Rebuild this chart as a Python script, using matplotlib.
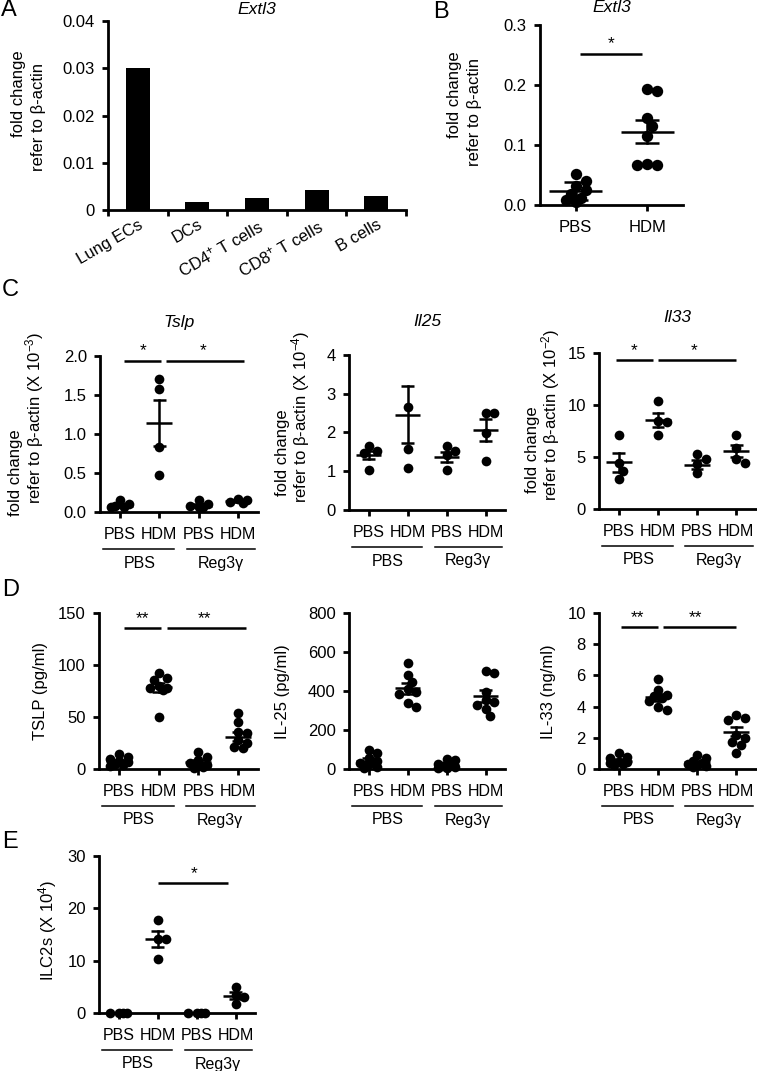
import matplotlib.pyplot as plt
import matplotlib.transforms as mtransforms
import numpy as np

plt.rcParams['font.family'] = ['Liberation Sans', 'DejaVu Sans']
plt.rcParams['mathtext.fontset'] = 'custom'
plt.rcParams['mathtext.rm'] = 'Liberation Sans'
plt.rcParams['mathtext.it'] = 'Liberation Sans:italic'
plt.rcParams['mathtext.default'] = 'regular'

W, H = 757, 1071

# ---- data ----
# A: Extl3 in sorted cells
cell_types = ["Lung ECs", "DCs", "CD4$^{+}$ T cells", "CD8$^{+}$ T cells", "B cells"]
extl3_cells = [0.030, 0.0017, 0.0026, 0.0042, 0.0030]

# B: Extl3 in lung, PBS vs HDM
groups_b = ["PBS", "HDM"]
extl3_pbs = [0.051, 0.040, 0.032, 0.025, 0.018, 0.012, 0.008, 0.005]
extl3_hdm = [0.193, 0.190, 0.145, 0.131, 0.115, 0.069, 0.066, 0.066]
extl3_mean = [0.024, 0.122]
extl3_sem = [0.015, 0.019]

# C-E: four groups (PBS/HDM challenge, PBS/Reg3g treatment)
groups = ["PBS", "HDM", "PBS", "HDM"]
treatments = ["PBS", "Reg3\u03b3"]

tslp_mrna = [[0.16, 0.10, 0.08, 0.07, 0.06], [1.70, 1.58, 0.83, 0.47],
             [0.15, 0.10, 0.08, 0.07, 0.06], [0.17, 0.15, 0.13, 0.12]]
tslp_mrna_mean = [0.08, 1.14, 0.08, 0.14]
tslp_mrna_sem = [0.02, 0.30, 0.02, 0.01]

il25_mrna = [[1.64, 1.51, 1.48, 1.03], [2.65, 1.58, 1.09],
             [1.64, 1.51, 1.42, 1.03], [2.50, 2.50, 1.98, 1.27]]
il25_mrna_mean = [1.41, 2.46, 1.37, 2.07]
il25_mrna_sem = [0.10, 0.74, 0.12, 0.28]

il33_mrna = [[7.1, 4.4, 3.7, 2.9], [10.35, 8.5, 8.4, 7.15],
             [5.3, 4.8, 4.3, 3.5], [7.15, 5.9, 4.8, 4.4]]
il33_mrna_mean = [4.5, 8.55, 4.25, 5.6]
il33_mrna_sem = [0.9, 0.65, 0.45, 0.6]

tslp_prot = [[14, 12, 10, 8, 7, 5, 4, 3], [92, 87.5, 86, 79.6, 78, 78, 76, 49.8],
             [16, 12, 8.7, 5.5, 4, 3, 2, 1], [53.6, 45.6, 36, 34.4, 28, 25, 21.5, 20]]
tslp_prot_mean = [7.5, 78.4, 6.5, 31.0]
tslp_prot_sem = [1.3, 4.5, 1.8, 4.3]

il25_prot = [[100, 80, 55, 40, 30, 25, 12, 5], [544, 480, 445, 411, 394, 385, 341, 316],
             [50, 45, 25, 20, 15, 10, 5, 3], [503, 493, 396, 353, 343, 327, 307, 270]]
il25_prot_mean = [43, 413, 22, 374]
il25_prot_sem = [12, 27, 6, 29]

il33_prot = [[1.0, 0.79, 0.68, 0.47, 0.45, 0.36, 0.30, 0.26],
             [5.76, 5.07, 4.75, 4.65, 4.54, 4.33, 4.0, 3.8],
             [0.9, 0.7, 0.5, 0.4, 0.3, 0.25, 0.2, 0.15],
             [3.47, 3.25, 3.15, 2.19, 1.97, 1.76, 1.54, 1.0]]
il33_prot_mean = [0.54, 4.6, 0.43, 2.4]
il33_prot_sem = [0.09, 0.22, 0.09, 0.31]

ilc2 = [[0, 0, 0, 0], [17.7, 14.1, 14.1, 10.4], [0, 0, 0, 0], [5.0, 3.4, 3.1, 1.8]]
ilc2_mean = [0, 14.1, 0, 3.3]
ilc2_sem = [0, 1.5, 0, 0.65]

SPINE_LW = 2.0
FS_TICK = 12
FS_GROUP = 11.5
FS_LAB = 12


def fx(x):
    return x / W


def fy(y):
    return 1 - y / H


def add_ax(fig, left, top, right, bottom):
    ax = fig.add_axes([fx(left), fy(bottom), (right - left) / W, (bottom - top) / H])
    for s in ['top', 'right']:
        ax.spines[s].set_visible(False)
    for s in ['left', 'bottom']:
        ax.spines[s].set_linewidth(SPINE_LW)
    ax.tick_params(width=SPINE_LW, length=4.5, labelsize=FS_TICK, direction='out')
    ax.tick_params(axis='x', pad=6)
    ax.tick_params(axis='y', pad=5)
    return ax


def swarm_x(ax, x0, vals, diam_px, step_px, n_side=2):
    # simple deterministic swarm: nearest free slot, else the least crowded one
    trans = ax.transData
    px_per_unit = trans.transform((1, 0))[0] - trans.transform((0, 0))[0]
    cands = [0.0]
    for i in range(1, n_side + 1):
        cands += [i * step_px, -i * step_px]
    placed = []
    xs = []
    for v in vals:
        yp = trans.transform((x0, v))[1]
        best, best_d = None, -1
        for c in cands:
            d = min([np.hypot(c - px, yp - py) for px, py in placed] or [1e9])
            if d >= 0.75 * diam_px:
                best = c
                break
            if d > best_d:
                best, best_d = c, d
        placed.append((best, yp))
        xs.append(x0 + best / px_per_unit)
    return xs


def dot_plot(ax, data, means, sems, ms=7.0, mean_w=0.33, cap_w=0.16):
    diam_px = ms / 72 * 100
    for i, vals in enumerate(data):
        xs = swarm_x(ax, i, vals, diam_px, diam_px * 0.45)
        ax.scatter(xs, vals, s=ms ** 2, color='black', zorder=3, clip_on=False, linewidths=0)
        ax.plot([i - mean_w, i + mean_w], [means[i], means[i]], color='black', lw=1.8, zorder=4,
                solid_capstyle='butt')
        if sems[i] > 0:
            ax.plot([i, i], [means[i] - sems[i], means[i] + sems[i]], color='black', lw=1.8, zorder=4)
            for yy in (means[i] - sems[i], means[i] + sems[i]):
                ax.plot([i - cap_w, i + cap_w], [yy, yy], color='black', lw=1.8, zorder=4,
                        solid_capstyle='butt')


def sig_bar(ax, x1, x2, y, label, star_x=None, dy=0.0):
    ax.plot([x1, x2], [y, y], color='black', lw=1.8, clip_on=False, solid_capstyle='butt')
    if star_x is None:
        star_x = (x1 + x2) / 2
    ax.text(star_x, y + dy, label, ha='center', va='bottom', fontsize=12.5)


def group_axis(fig, ax):
    ax.set_xlim(-0.5, 3.5)
    ax.set_xticks(range(4), labels=groups)
    ax.tick_params(axis='x', labelsize=FS_GROUP)
    t1 = mtransforms.offset_copy(ax.get_xaxis_transform(), fig=fig, y=-37, units='dots')
    t2 = mtransforms.offset_copy(ax.get_xaxis_transform(), fig=fig, y=-51, units='dots')
    for (a, b), name, c in zip([(-0.42, 1.38), (1.7, 3.42)], treatments, [0.5, 2.55]):
        ax.plot([a, b], [0, 0], color='black', lw=1.1, transform=t1, clip_on=False)
        ax.text(c, 0, name, transform=t2, ha='center', va='center', fontsize=FS_GROUP)


def ylab2(fig, line1, xy1, line2, xy2):
    fig.text(fx(xy1[0]), fy(xy1[1]), line1, rotation=90, ha='center', va='center', fontsize=FS_LAB)
    fig.text(fx(xy2[0]), fy(xy2[1]), line2, rotation=90, ha='center', va='center', fontsize=FS_LAB)


fig = plt.figure(figsize=(W / 100, H / 100), dpi=100)
beta = "refer to \u03b2-actin"

# ---------- A ----------
axA = add_ax(fig, 108, 21, 406, 210)
axA.bar(range(len(extl3_cells)), extl3_cells, width=0.4, color='black')
axA.set_xlim(-0.5, 4.5)
axA.set_ylim(0, 0.04)
axA.set_yticks([0, 0.01, 0.02, 0.03, 0.04], labels=["0", "0.01", "0.02", "0.03", "0.04"])
axA.set_xticks(np.arange(-0.5, 5.0, 1.0), labels=[])
axA.set_xticks(range(5), labels=cell_types, minor=True)
axA.tick_params(axis='x', which='minor', length=0, pad=5)
for lab in axA.get_xticklabels(minor=True):
    lab.set_rotation(30)
    lab.set_ha('right')
    lab.set_rotation_mode('anchor')
    lab.set_fontsize(FS_TICK)
axA.set_title("Extl3", style='italic', fontsize=12.5, pad=5)
ylab2(fig, "fold change", (19, 94), beta, (39, 117))

# ---------- B ----------
axB = add_ax(fig, 540, 25, 683, 205)
axB.set_xlim(-0.5, 1.5)
axB.set_ylim(0, 0.3)
axB.set_yticks([0, 0.1, 0.2, 0.3], labels=["0.0", "0.1", "0.2", "0.3"])
axB.set_xticks(range(2), labels=groups_b)
dot_plot(axB, [extl3_pbs, extl3_hdm], extl3_mean, extl3_sem, ms=8.2, mean_w=0.37, cap_w=0.17)
sig_bar(axB, 0.06, 0.92, 0.252, "*", star_x=0.5, dy=0.004)
axB.set_title("Extl3", style='italic', fontsize=12.5, pad=9)
ylab2(fig, "fold change", (455, 95), beta, (474, 112))

# ---------- C ----------
axC1 = add_ax(fig, 100, 356, 258, 512)
axC1.set_ylim(0, 2.0)
axC1.set_yticks([0, 0.5, 1.0, 1.5, 2.0], labels=["0.0", "0.5", "1.0", "1.5", "2.0"])
group_axis(fig, axC1)
dot_plot(axC1, tslp_mrna, tslp_mrna_mean, tslp_mrna_sem)
sig_bar(axC1, 0.12, 1.05, 1.94, "*", star_x=0.58, dy=0.03)
sig_bar(axC1, 1.18, 3.15, 1.94, "*", star_x=2.1, dy=0.03)
axC1.set_title("Tslp", style='italic', fontsize=12.5, pad=21)
ylab2(fig, "fold change", (16, 473), beta + " (X 10$^{-3}$)", (35, 418))

axC2 = add_ax(fig, 349, 355, 505, 510)
axC2.set_ylim(0, 4)
axC2.set_yticks([0, 1, 2, 3, 4])
group_axis(fig, axC2)
dot_plot(axC2, il25_mrna, il25_mrna_mean, il25_mrna_sem)
axC2.set_title("Il25", style='italic', fontsize=12.5, pad=21)
ylab2(fig, "fold change", (283, 453), beta + " (X 10$^{-4}$)", (301, 417))

axC3 = add_ax(fig, 599, 353, 756, 509)
axC3.set_ylim(0, 15)
axC3.set_yticks([0, 5, 10, 15])
group_axis(fig, axC3)
dot_plot(axC3, il33_mrna, il33_mrna_mean, il33_mrna_sem)
sig_bar(axC3, -0.07, 0.87, 14.3, "*", star_x=0.4, dy=0.2)
sig_bar(axC3, 1.0, 3.0, 14.3, "*", star_x=1.93, dy=0.2)
axC3.set_title("Il33", style='italic', fontsize=12.5, pad=22)
ylab2(fig, "fold change", (533, 450), beta + " (X 10$^{-2}$)", (551, 415))

# ---------- D ----------
axD1 = add_ax(fig, 99, 613, 258, 769)
axD1.set_ylim(0, 150)
axD1.set_yticks([0, 50, 100, 150])
group_axis(fig, axD1)
dot_plot(axD1, tslp_prot, tslp_prot_mean, tslp_prot_sem)
sig_bar(axD1, 0.13, 1.05, 135.5, "**", star_x=0.6, dy=2)
sig_bar(axD1, 1.2, 3.2, 135.5, "**", star_x=2.15, dy=2)
fig.text(fx(40), fy(691), "TSLP (pg/ml)", rotation=90, ha='center', va='center', fontsize=FS_LAB)

axD2 = add_ax(fig, 349, 613, 505, 769)
axD2.set_ylim(0, 800)
axD2.set_yticks([0, 200, 400, 600, 800])
group_axis(fig, axD2)
dot_plot(axD2, il25_prot, il25_prot_mean, il25_prot_sem)
fig.text(fx(282), fy(692), "IL-25 (pg/ml)", rotation=90, ha='center', va='center', fontsize=FS_LAB)

axD3 = add_ax(fig, 599, 613, 756, 769)
axD3.set_ylim(0, 10)
axD3.set_yticks([0, 2, 4, 6, 8, 10])
group_axis(fig, axD3)
dot_plot(axD3, il33_prot, il33_prot_mean, il33_prot_sem)
sig_bar(axD3, 0.05, 1.0, 9.1, "**", star_x=0.48, dy=0.12)
sig_bar(axD3, 1.13, 2.98, 9.1, "**", star_x=1.97, dy=0.12)
fig.text(fx(548), fy(692), "IL-33 (ng/ml)", rotation=90, ha='center', va='center', fontsize=FS_LAB)

# ---------- E ----------
axE = add_ax(fig, 99, 856, 255, 1013)
axE.set_ylim(0, 30)
axE.set_yticks([0, 10, 20, 30])
group_axis(fig, axE)
dot_plot(axE, ilc2, ilc2_mean, ilc2_sem)
sig_bar(axE, 1.0, 2.82, 24.8, "*", star_x=1.95, dy=0.4)
fig.text(fx(48), fy(930), "ILC2s (X 10$^{4}$)", rotation=90, ha='center', va='center', fontsize=FS_LAB)

# panel letters
for letter, (x, y) in zip("ABCDE", [(1, 10), (433, 12), (2, 290), (2, 590), (2, 842)]):
    fig.text(fx(x), fy(y), letter, ha='left', va='center', fontsize=17)

fig.savefig("out.png", dpi=100)
